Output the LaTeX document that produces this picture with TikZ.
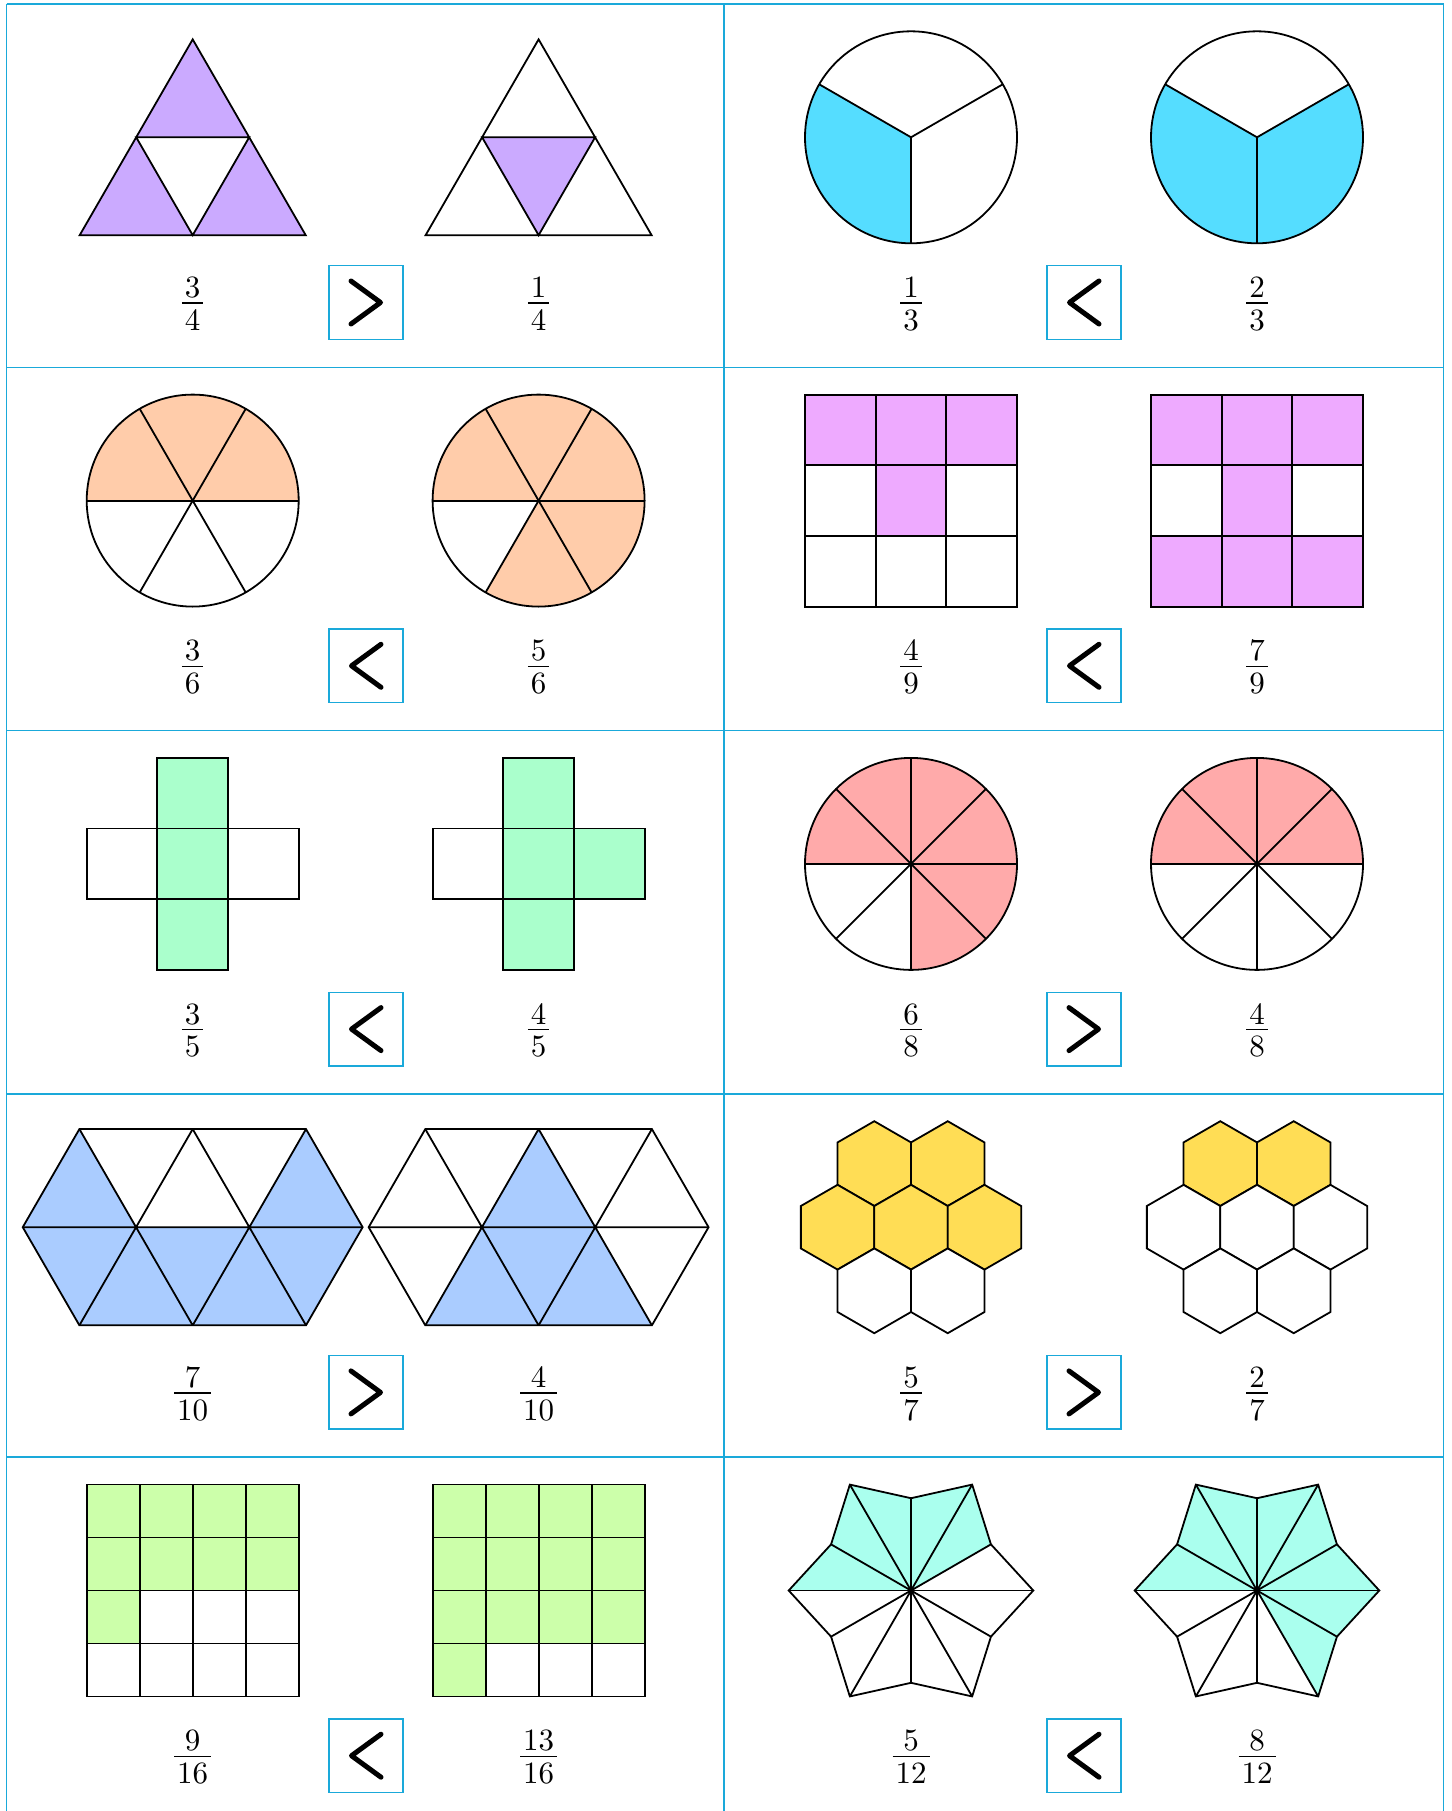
\documentclass[tikz,border=0pt]{standalone}
\usepackage{fontspec}
\setmainfont{lmroman10-regular.otf}
\definecolor{gridc}{HTML}{1AA9DA}
\definecolor{cpurple}{HTML}{CBAAFF}
\definecolor{ccyan}{HTML}{55DDFF}
\definecolor{cpeach}{HTML}{FFCCAA}
\definecolor{cmagenta}{HTML}{EEAAFF}
\definecolor{cmint}{HTML}{AAFFCC}
\definecolor{csalmon}{HTML}{FFAAAA}
\definecolor{cblue}{HTML}{AACCFF}
\definecolor{cyellow}{HTML}{FFDD55}
\definecolor{clime}{HTML}{CCFFAA}
\definecolor{caqua}{HTML}{AAFFEE}
\newcommand\fracbox[2]{{\renewcommand\arraystretch{0}\setlength\arrayrulewidth{1.3pt}\begin{tabular}[t]{@{\kern3pt}c@{\kern3pt}}#1\rule[-5pt]{0pt}{5pt}\\\hline\rule{0pt}{26.5pt}#2\end{tabular}}}
\newcommand\chevgt[1]{\draw[chev] ([shift={(-15,-21.5)}]#1.center) -- ([shift={(14.5,0)}]#1.center) -- ([shift={(-15,21.5)}]#1.center);}
\newcommand\chevlt[1]{\draw[chev] ([shift={(15,-21.5)}]#1.center) -- ([shift={(-14.5,0)}]#1.center) -- ([shift={(15,21.5)}]#1.center);}
\tikzset{
  shp/.style={draw=black, line width=1.8pt},
  cellline/.style={draw=gridc, line width=1.5pt},
  cmpbox/.style={draw=gridc, line width=1.5pt, minimum size=73.6pt, inner sep=0pt},
  chev/.style={draw=black, line width=5pt, line cap=round, line join=round},
  fracnode/.style={anchor=base, inner sep=0pt, font=\fontsize{31}{37}\selectfont},
}
\begin{document}
\begin{tikzpicture}[x=1pt,y=-1pt]
\useasboundingbox (0,0) rectangle (1451,1811);
\fill[white] (0,0) rectangle (1451,1811);

% ---------- grid ----------
\foreach \yy in {4,367.3,730.6,1093.9,1457.2}
  \draw[cellline] (6.5,\yy) -- (1443.5,\yy);
\foreach \xx in {6.5,724,1443.5}
  \draw[cellline] (\xx,4) -- (\xx,1815);

% ---------- row 1 left: triangles ----------
\begin{scope}[shift={(192.7,137.3)},yscale=-1]
  \coordinate (A) at (0,97.9); \coordinate (L) at (-113,-97.9); \coordinate (R) at (113,-97.9);
  \coordinate (mL) at (-56.5,0); \coordinate (mR) at (56.5,0); \coordinate (mB) at (0,-97.9);
  \fill[cpurple] (A)--(mL)--(mR)--cycle (mL)--(L)--(mB)--cycle (mB)--(mR)--(R)--cycle;
  \draw[shp] (A)--(L)--(R)--cycle (mL)--(mR)--(mB)--cycle;
\end{scope}
\begin{scope}[shift={(538.6,137.3)},yscale=-1]
  \coordinate (A) at (0,97.9); \coordinate (L) at (-113,-97.9); \coordinate (R) at (113,-97.9);
  \coordinate (mL) at (-56.5,0); \coordinate (mR) at (56.5,0); \coordinate (mB) at (0,-97.9);
  \fill[cpurple] (mL)--(mR)--(mB)--cycle;
  \draw[shp] (A)--(L)--(R)--cycle (mL)--(mR)--(mB)--cycle;
\end{scope}
\node[fracnode] (f1a) at (192.7,297.4) {\fracbox{3}{4}};
\node[fracnode] (f1b) at (538.6,297.4) {\fracbox{1}{4}};
\node[cmpbox] (b1) at (366,302.5) {};
\chevgt{b1}

% ---------- row 1 right: circles in thirds ----------
\begin{scope}[shift={(911,137.3)},yscale=-1]
  \fill[ccyan] (0,0) -- (150:106) arc[start angle=150,end angle=270,radius=106] -- cycle;
  \draw[shp] (0,0) circle[radius=106];
  \draw[shp] (0,0)--(30:106) (0,0)--(150:106) (0,0)--(270:106);
\end{scope}
\begin{scope}[shift={(1257,137.3)},yscale=-1]
  \fill[ccyan] (0,0) -- (150:106) arc[start angle=150,end angle=390,radius=106] -- cycle;
  \draw[shp] (0,0) circle[radius=106];
  \draw[shp] (0,0)--(30:106) (0,0)--(150:106) (0,0)--(270:106);
\end{scope}
\node[fracnode] (f2a) at (911,297.4) {\fracbox{1}{3}};
\node[fracnode] (f2b) at (1257,297.4) {\fracbox{2}{3}};
\node[cmpbox] (b2) at (1084,302.5) {};
\chevlt{b2}

% ---------- row 2 left: circles in sixths ----------
\begin{scope}[shift={(192.7,500.6)},yscale=-1]
  \fill[cpeach] (0,0) -- (0:106) arc[start angle=0,end angle=180,radius=106] -- cycle;
  \draw[shp] (0,0) circle[radius=106];
  \foreach \a in {0,60,120} \draw[shp] (\a:106) -- ({\a+180}:106);
\end{scope}
\begin{scope}[shift={(538.6,500.6)},yscale=-1]
  \fill[cpeach] (0,0) -- (240:106) arc[start angle=240,end angle=540,radius=106] -- cycle;
  \draw[shp] (0,0) circle[radius=106];
  \foreach \a in {0,60,120} \draw[shp] (\a:106) -- ({\a+180}:106);
\end{scope}
\node[fracnode] (f3a) at (192.7,660.7) {\fracbox{3}{6}};
\node[fracnode] (f3b) at (538.6,660.7) {\fracbox{5}{6}};
\node[cmpbox] (b3) at (366,665.8) {};
\chevlt{b3}

% ---------- row 2 right: 3x3 grids ----------
\begin{scope}[shift={(911,500.6)},yscale=-1]
  \foreach \c/\r in {0/0,1/0,2/0,1/1}
    \fill[cmagenta] ({-106+\c*70.667},{106-\r*70.667}) rectangle ++(70.667,-70.667);
  \draw[shp] (-106,-106) rectangle (106,106);
  \foreach \t in {-35.333,35.333} {\draw[shp] (\t,-106)--(\t,106); \draw[shp] (-106,\t)--(106,\t);}
\end{scope}
\begin{scope}[shift={(1257,500.6)},yscale=-1]
  \foreach \c/\r in {0/0,1/0,2/0,1/1,0/2,1/2,2/2}
    \fill[cmagenta] ({-106+\c*70.667},{106-\r*70.667}) rectangle ++(70.667,-70.667);
  \draw[shp] (-106,-106) rectangle (106,106);
  \foreach \t in {-35.333,35.333} {\draw[shp] (\t,-106)--(\t,106); \draw[shp] (-106,\t)--(106,\t);}
\end{scope}
\node[fracnode] (f4a) at (911,660.7) {\fracbox{4}{9}};
\node[fracnode] (f4b) at (1257,660.7) {\fracbox{7}{9}};
\node[cmpbox] (b4) at (1084,665.8) {};
\chevlt{b4}

% ---------- row 3 left: crosses ----------
\begin{scope}[shift={(192.7,863.9)},yscale=-1]
  \foreach \x/\y/\f in {0/1/cmint,-1/0/white,0/0/cmint,1/0/white,0/-1/cmint}
    \filldraw[shp,fill=\f] ({\x*70.667-35.333},{\y*70.667-35.333}) rectangle ++(70.667,70.667);
\end{scope}
\begin{scope}[shift={(538.6,863.9)},yscale=-1]
  \foreach \x/\y/\f in {0/1/cmint,-1/0/white,0/0/cmint,1/0/cmint,0/-1/cmint}
    \filldraw[shp,fill=\f] ({\x*70.667-35.333},{\y*70.667-35.333}) rectangle ++(70.667,70.667);
\end{scope}
\node[fracnode] (f5a) at (192.7,1024.0) {\fracbox{3}{5}};
\node[fracnode] (f5b) at (538.6,1024.0) {\fracbox{4}{5}};
\node[cmpbox] (b5) at (366,1029.1) {};
\chevlt{b5}

% ---------- row 3 right: circles in eighths ----------
\begin{scope}[shift={(911,863.9)},yscale=-1]
  \fill[csalmon] (0,0) -- (270:106) arc[start angle=270,end angle=540,radius=106] -- cycle;
  \draw[shp] (0,0) circle[radius=106];
  \foreach \a in {0,45,90,135} \draw[shp] (\a:106) -- ({\a+180}:106);
\end{scope}
\begin{scope}[shift={(1257,863.9)},yscale=-1]
  \fill[csalmon] (0,0) -- (0:106) arc[start angle=0,end angle=180,radius=106] -- cycle;
  \draw[shp] (0,0) circle[radius=106];
  \foreach \a in {0,45,90,135} \draw[shp] (\a:106) -- ({\a+180}:106);
\end{scope}
\node[fracnode] (f6a) at (911,1024.0) {\fracbox{6}{8}};
\node[fracnode] (f6b) at (1257,1024.0) {\fracbox{4}{8}};
\node[cmpbox] (b6) at (1084,1029.1) {};
\chevgt{b6}

% ---------- row 4 left: hexagons of ten triangles ----------
\foreach \cx/\sel in {192.7/1, 538.6/2} {
\begin{scope}[shift={(\cx,1227.2)},yscale=-1]
  \coordinate (t0) at (-113.3,98.12); \coordinate (t1) at (0,98.12); \coordinate (t2) at (113.3,98.12);
  \coordinate (m0) at (-169.95,0); \coordinate (m1) at (-56.65,0); \coordinate (m2) at (56.65,0); \coordinate (m3) at (169.95,0);
  \coordinate (u0) at (-113.3,-98.12); \coordinate (u1) at (0,-98.12); \coordinate (u2) at (113.3,-98.12);
  \ifnum\sel=1
    \fill[cblue] (m0)--(t0)--(m1)--cycle (m2)--(t2)--(m3)--cycle
      (m0)--(m3)--(u2)--(u0)--cycle;
  \else
    \fill[cblue] (m1)--(t1)--(m2)--cycle (u0)--(m1)--(m2)--(u2)--cycle;
  \fi
  \draw[shp] (t0)--(t2)--(m3)--(u2)--(u0)--(m0)--cycle;
  \draw[shp] (m0)--(m3) (t0)--(u1) (u0)--(t1) (t1)--(u2) (u1)--(t2);
\end{scope}}
\node[fracnode] (f7a) at (192.7,1387.3) {\fracbox{7}{10}};
\node[fracnode] (f7b) at (538.6,1387.3) {\fracbox{4}{10}};
\node[cmpbox] (b7) at (366,1392.4) {};
\chevgt{b7}

% ---------- row 4 right: honeycombs ----------
\begin{scope}[shift={(911,1227.2)},yscale=-1]
  \foreach \x/\y/\f in {-36.72/63.6/cyellow,36.72/63.6/cyellow,-73.44/0/cyellow,0/0/cyellow,73.44/0/cyellow,-36.72/-63.6/white,36.72/-63.6/white}
    \filldraw[shp,fill=\f] (\x,\y) +(30:42.4) -- +(90:42.4) -- +(150:42.4) -- +(210:42.4) -- +(270:42.4) -- +(330:42.4) -- cycle;
\end{scope}
\begin{scope}[shift={(1257,1227.2)},yscale=-1]
  \foreach \x/\y/\f in {-36.72/63.6/cyellow,36.72/63.6/cyellow,-73.44/0/white,0/0/white,73.44/0/white,-36.72/-63.6/white,36.72/-63.6/white}
    \filldraw[shp,fill=\f] (\x,\y) +(30:42.4) -- +(90:42.4) -- +(150:42.4) -- +(210:42.4) -- +(270:42.4) -- +(330:42.4) -- cycle;
\end{scope}
\node[fracnode] (f8a) at (911,1387.3) {\fracbox{5}{7}};
\node[fracnode] (f8b) at (1257,1387.3) {\fracbox{2}{7}};
\node[cmpbox] (b8) at (1084,1392.4) {};
\chevgt{b8}

% ---------- row 5 left: 4x4 grids ----------
\begin{scope}[shift={(192.7,1590.5)},yscale=-1]
  \foreach \c/\r in {0/0,1/0,2/0,3/0,0/1,1/1,2/1,3/1,0/2}
    \fill[clime] ({-106+\c*53},{106-\r*53}) rectangle ++(53,-53);
  \draw[shp] (-106,-106) rectangle (106,106);
  \foreach \t in {-53,0,53} {\draw[shp] (\t,-106)--(\t,106); \draw[shp] (-106,\t)--(106,\t);}
\end{scope}
\begin{scope}[shift={(538.6,1590.5)},yscale=-1]
  \foreach \c/\r in {0/0,1/0,2/0,3/0,0/1,1/1,2/1,3/1,0/2,1/2,2/2,3/2,0/3}
    \fill[clime] ({-106+\c*53},{106-\r*53}) rectangle ++(53,-53);
  \draw[shp] (-106,-106) rectangle (106,106);
  \foreach \t in {-53,0,53} {\draw[shp] (\t,-106)--(\t,106); \draw[shp] (-106,\t)--(106,\t);}
\end{scope}
\node[fracnode] (f9a) at (192.7,1750.6) {\fracbox{9}{16}};
\node[fracnode] (f9b) at (538.6,1750.6) {\fracbox{13}{16}};
\node[cmpbox] (b9) at (366,1755.7) {};
\chevlt{b9}

% ---------- row 5 right: stars ----------
\foreach \cx/\list in {911/{1,2,3,4,5}, 1257/{10,11,0,1,2,3,4,5}} {
\begin{scope}[shift={(\cx,1590.5)},yscale=-1]
  \foreach \k in {0,...,11} {
    \pgfmathsetmacro\rr{mod(\k,2)==0 ? 122.3 : 92.3}
    \coordinate (v\k) at ({30*\k}:\rr);
  }
  \foreach \k in \list {
    \pgfmathtruncatemacro\kn{mod(\k+1,12)}
    \fill[caqua] (0,0)--(v\k)--(v\kn)--cycle;
  }
  \draw[shp] (v0) \foreach \k in {1,...,11}{--(v\k)} -- cycle;
  \foreach \k in {0,...,11} \draw[shp] (0,0)--(v\k);
\end{scope}}
\node[fracnode] (f10a) at (911,1750.6) {\fracbox{5}{12}};
\node[fracnode] (f10b) at (1257,1750.6) {\fracbox{8}{12}};
\node[cmpbox] (b10) at (1084,1755.7) {};
\chevlt{b10}
\end{tikzpicture}
\end{document}
